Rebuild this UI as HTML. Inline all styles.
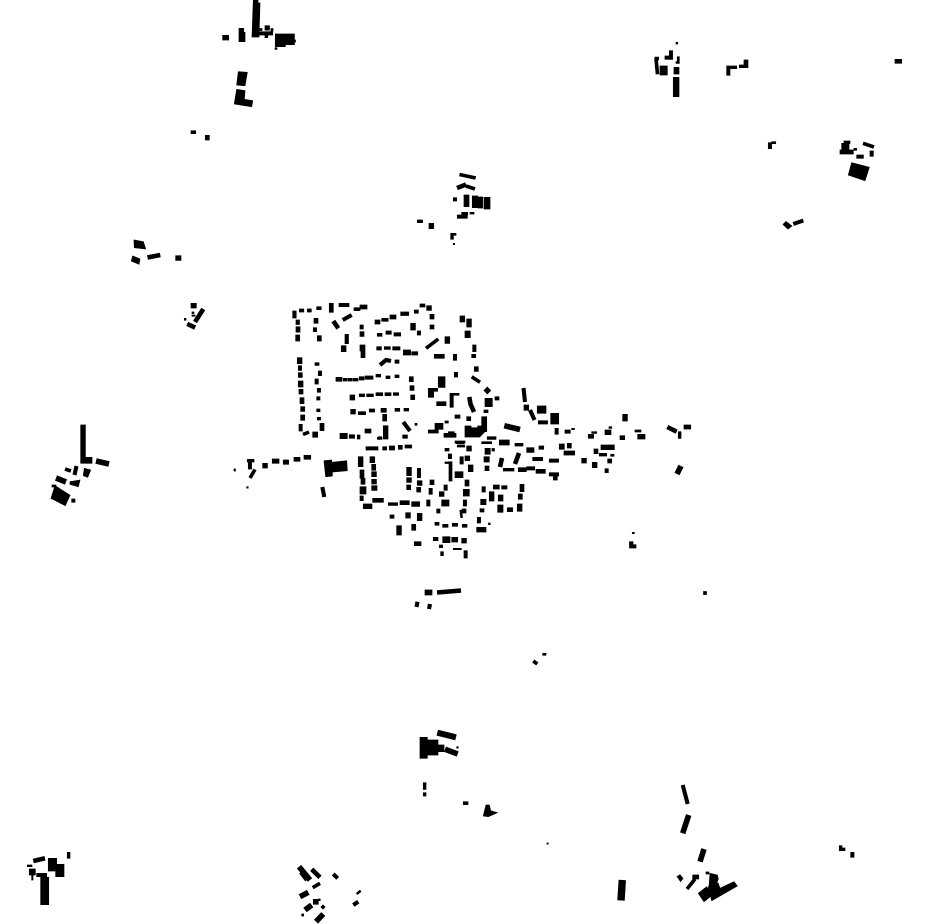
<!DOCTYPE html>
<html>
<head>
<meta charset="utf-8">
<style>html,body{margin:0;padding:0;background:#fff}svg{display:block}</style>
</head>
<body>
<svg xmlns="http://www.w3.org/2000/svg" width="930" height="924" viewBox="0 0 930 924">
<rect width="930" height="924" fill="#fff"/>
<!-- axis-aligned buildings -->
<path fill="#000" stroke="#000" stroke-width=".7" d="
M292.7 311h3.5v7h-3.5z M299.3 309h4.5v3h-4.5z M307.3 309h4v3h-4z M316.7 306.7h4.5v3h-4.5z M329.3 303.3h4v9h-4z M339 303.3h10v3.3h-10z M354 307.7h6v3h-6z M360 305h7v4h-7z
M296 320h3.5v4.5h-3.5z M296 326.7h4v5.5h-4z M295.7 335h4v6h-4z M314 318.3h4v5h-4z M313.3 327.7h3.3v4h-3.3z M317.3 335.7h4v5.3h-4z M360 325h3.3v4h-3.3z M360 331.7h4v4.7h-4z M345 334.3h3.5v9.3h-3.5z M341.3 345.7h4.7v6h-4.7z M360 345h5v6h-5z M361 351.7h4v6h-4z
M375 320h5v4h-5z M381.7 318.3h6.5v3h-6.5z M390 315h6v4h-6z M400.7 312h8v3.5h-8z M414.3 310h4v3.3h-4z M420 304h5v3h-5z M426.7 305.7h4.7v4.7h-4.7z M430 314.3h4v4.7h-4z M430 325h4v4h-4z M410.7 323.3h4.7v6.7h-4.7z M417.3 331h3.3v4h-3.3z
M377.3 333.3h4.7v3h-4.7z M386 331h5.3v3.3h-5.3z M394 332.7h6.7v3.3h-6.7z M376.7 346.7h4.7v3.3h-4.7z M384.3 346.7h6v2.7h-6z M392.7 346.7h7.3v3.3h-7.3z M403.3 350h7.3v5h-7.3z M411.7 351.7h6v3.3h-6z M395 360h4v3.3h-4z
M445 336.7h4.7v6.7h-4.7z M434.3 354.3h10v4h-10z M453.3 354.3h3.3v6h-3.3z M460 316h4.7v6h-4.7z M466.7 319h4.7v8h-4.7z M465 331h5.3v6.7h-5.3z M472.7 345h3.3v6.7h-3.3z M471.7 354.3h4v3.3h-4z M474.3 366.7h4v4.7h-4z M454.3 372.3h3.3v4.7h-3.3z M438.3 376.7h6.7v10.7h-6.7z
M428.3 388.3h9.3v3h-4v6h-5.3z M450 393.3h9v2h-5.7v12h-3.3z M436.7 401.7h9.3v4h-9.3z M495 396.7h4v3.3h-4z M485 398.3h7.3v8.3h-7.3z M484 410h4v2.7h-4z M455 415h5v3.3h-5z M466.7 416.7h4v4h-4z
M481.7 416.7h5v15h-2l-5 5.3h-14.7v-11h6v1.7h6.7v-1.7h4z
M297.3 357.7h4.7v6h-4.7z M298.3 365.7h3.3v4.7h-3.3z M298.3 372.7h4v4.7h-4z M298.3 381h4.7v6h-4.7z M299 389.3h4v4.7h-4z M300 397.7h4v6h-4z M300.7 406.7h4v4.7h-4z M300.7 415h4v5.3h-4z M299 424.3h3.3v6.7h-3.3z M312.7 432h5v5.3h-5z M320 423.3h4v7.3h-4z
M315 362.7h4v2.7h-4z M318.3 371h3.3v4.7h-3.3z M315 379h3.3v5h-3.3z M317.3 388.3h3.3v4h-3.3z M316.7 396.7h3.3v3.3h-3.3z M316.7 409h3.3v2.7h-3.3z M317.3 417.3h3.3v2.7h-3.3z
M336 377.3h6v4h-6z M343.3 378.3h4v2.7h-4z M348.3 378.3h4v2.7h-4z M353.3 378.3h4.7v2.7h-4.7z M359.3 376.7h4.7v3.3h-4.7z M365 376h8v3.3h-8z M376 374.3h4.7v2.7h-4.7z M386 376h4v2.7h-4z M395 375h4v2.7h-4z M409.3 376.7h4v5h-4z M410 385.7h4v4.7h-4z M410.7 395h4v4.7h-4z
M350 395h4.7v5h-4.7z M359.3 394h5.3v2.7h-5.3z M366.7 394h6.7v2.7h-6.7z M376 392.7h6.7v3h-6.7z M385 392.7h6v3h-6z M393.3 392.7h5.3v2.7h-5.3z
M350.7 409.3h4.7v4.7h-4.7z M358.3 411.7h7.3v3h-7.3z M369.3 409h5.3v3h-5.3z M381 408.3h5.3v4h-5.3z M395 408.3h4.7v3h-4.7z M404 408.3h4.7v2.7h-4.7z M382.7 414.3h4v6.7h-4z M383.3 425.7h4.7v13.3h-4.7z M378.3 436.7h3.3v2.7h-3.3z M365 429h6v4h-6z M340 433.3h6.7v3.3h-6.7z M349.3 435h5.3v3.3h-5.3z M357.3 435h2.7v4h-2.7z M403.3 435h4v3.3h-4z M415 423.3h2v2h-2z
M428.3 430h10v3h-10z M435 423.3h8v6h-8z M445 421h3.3v2h-3.3z M448.3 431.7h6v5.3h-6z M444 433.3h12v4h-12z M455 441h10v2h-10z
M234 469h1.5v2h-1.5z M246.7 486.7h1.5v1.5h-1.5z M247.3 459.3h6.7v2.7h-6.7z M248.3 461.7h3.3v7.3h-3.3z M262.7 463.3h4.7v4.7h-4.7z M272.3 459h6.7v4.3h-6.7z M283.3 460h5.3v4.3h-5.3z M294 457.3h6v4h-6z M304 455.3h6.7v4h-6.7z
M358.3 456.7h4.7v10h-4.7z M360 470h4v8.3h-4z M361 478.3h4v6h-4z M360 486.7h6v7.3h-6z M360 496h3.3v4.7h-3.3z M370 456.7h4.7v6h-4.7z M371.7 464.3h4v6h-4z M371.7 471.7h4.7v5h-4.7z M371.7 479.3h4.7v4.7h-4.7z M371.7 485.7h5.3v4.7h-5.3z M372.7 498.3h10.7v4h-10.7z M363.3 504h8.7v4.7h-8.7z
M366 446.7h12v3.3h-12z M382.7 446.7h4v3.3h-4z M389.3 446h5.3v4h-5.3z M398.3 445.3h4v4h-4z M405 445h6.7v3h-6.7z
M406.7 467.3h4.7v8.3h-4.7z M406.7 477.7h4.7v4.7h-4.7z M406.7 485h4v4.7h-4z M417.3 468.3h3.3v9.3h-3.3z M417.3 480.7h4.7v4.7h-4.7z M416.7 487.3h4v4.7h-4z
M388.3 502.7h9.3v2.7h-9.3z M400 500.7h9.3v4h-9.3z M411.7 501.7h8v4.7h-8z M426.7 500h3.3v6h-3.3z M430 480h4v4.7h-4z M429 488.3h3.3v6h-3.3z M439.3 491.7h4.7v4.7h-4.7z M444 485h3.3v5.3h-3.3z M465 480h4v6h-4z M463.3 489.3h6v6.7h-6z M463.3 500h3.3v6h-3.3z M441.7 500h7.3v6h-7.3z M436.7 509h3.3v4h-3.3z M462 509h4v4h-4z
M390 515h4v3.3h-4z M405.7 512.7h4.7v5.3h-4.7z M417.3 513.3h4.7v7.3h-4.7z M396.7 525.7h4.7v9.3h-4.7z M411.7 524.3h4v6h-4z M414.3 541.7h6.7v4h-6.7z
M435 522.3h4v3h-4z M442.7 524.3h5.3v3h-5.3z M452.3 523.3h5.3v3h-5.3z M462.3 524.3h4.7v3h-4.7z M477.3 518.3h3v4.7h-3z M477.3 527.7h3v3.3h-3z M433.3 537.3h4.7v3.3h-4.7z M442.7 536.7h7.3v6h-7.3z M451.7 537.3h6v4.7h-6z M461.7 538.3h4.7v4.7h-4.7z M439.3 545h3.3v2.7h-3.3z M440.7 551.7h2.7v4h-2.7z M453.3 548.3h8v1.3h-8z M464 550.7h3.3v7.3h-3.3z
M449 461.7h3v19.3h-3z M445 462h7v1.5h-7z M460 456.7h3.3v7.3h-3.3z M465 456h4.7v4.7h-4.7z M468.3 465h4.7v6.7h-4.7z M455 471.7h8v6h-8z M448.3 454h3.3v4.7h-3.3z M445 448.3h4v2.7h-4z M456 441.7h8v2h-8z M457.3 445h7.3v2h-7.3z M466.7 446h4.7v5h-4.7z
M465 431.7h5.3v4h-5.3z M474 432h5v5h-5z M429.3 430h7.3v2.7h-7.3z M402.7 435h4.7v3.3h-4.7z M384 430h2.7v8.7h-2.7z M377.3 437.3h4.7v2h-4.7z M366 430h4.7v2.7h-4.7z M340 433.3h7.3v5.3h-7.3z M349.3 434.7h4.7v3.3h-4.7z
M425 590h7v5h-7z M524 405h4.7v5.3h-4.7z M537.3 406h8.7v7.3h-8.7z M550.7 413.3h8v10.7h-8z M538.3 420.7h9.3v3.3h-9.3z M555 428.3h3.3v6h-3.3z M565 430h5.3v3.3h-5.3z M571.7 428.3h2.7v1.3h-2.7z
M588.3 434.3h5.3v4h-5.3z M591.7 431.7h5v1.7h-5z M605 430h6v4.7h-6z M609 426.7h2.7v1.7h-2.7z M622.7 414.3h4.7v6.7h-4.7z M620 435.7h4.7v4h-4.7z M635 430h6v2h-6z M637.7 434.3h7.3v4.7h-7.3z M678.3 431.7h2.7v6.7h-2.7z M684 425h6.7v4h-6.7z
M601 445h13.3v4.7h-13.3z M594 449h4v4.7h-4z M599.3 453.3h7.3v2.7h-7.3z M610.7 454.3h3.3v2h-3.3z M607.7 459h4v4h-4z M581.7 458.3h4.7v4.7h-4.7z M592.3 462.3h4.7v5.3h-4.7z M605 468.7h3.3v4h-3.3z
M559.3 444h5v5.3h-5z M567.3 443.3h4v4.7h-4z M564 451h10.7v4h-10.7z M539 446h4.7v3.3h-4.7z M526.7 447.7h7.3v4.7h-7.3z M515 443.3h8v2.7h-8z M499.3 440h10v5h-10z M487.3 436.7h8.7v2.7h-8.7z M481.7 441.7h10v2h-10z M485 448.3h5.3v6h-5.3z M492 448.5h2.5v2.5h-2.5z M484 456.7h5.3v5.3h-5.3z M485 466h4v4.7h-4z
M532.7 457.3h10v3.3h-10z M549.3 459h9.3v3.3h-9.3z M503.3 468.3h10.7v2.7h-10.7z M518.3 467.7h8v4h-8z M526.7 466.7h8v3.3h-8z M536 469.3h9.3v4h-9.3z M549.3 472.7h9.3v3.3h-9.3z M553.3 475h4v5h-4z
M493.3 485h6v4h-6z M501.7 485.7h5.3v3.3h-5.3z M520 484.3h4v7.3h-4z M518.3 494h4v5.3h-4z M517.3 504h4.7v7.3h-4.7z M507.3 507.7h5.3v4h-5.3z M497.7 505h5.3v7.3h-5.3z M498.3 495h4.7v6h-4.7z M489.3 491.7h4.7v9.3h-4.7z M482 486.7h3.3v5.3h-3.3z M480.7 499.3h5.3v5.3h-5.3z M480 508.7h4v3.3h-4z M477.3 517.3h3.3v5.3h-3.3z M476.7 527.3h9.3v4.7h-9.3z M488.5 523h1.7v1.7h-1.7z
M629.5 541.7h3.5v3h3v3.3h-6.5z M632.3 532.3h2v1.3h-2z M703.5 591.5h3v3h-3z
M222.7 35.3h6v4.7h-6z M239 28.3h4.7v4h1.3v9.3h-6z M253.3 0h4.7v3h2l-1 34h-7z M259.3 31.7h13.3v3.3h-13.3z M265 25.7h4.5v4.5h-4.5z M265 31.7h2.7v6h-2.7z M260 28.5h2v2h-2z M271 28.5h2v2.5h-2z M275.3 34h10v12.7h-10z M285.7 34h8.7v10.7h-8.7z M275 47.7h2v1.7h-2z M294 40h1.5v2h-1.5z
M191 130.7h4.7v3h-4.7z M205.3 135.3h4v4.7h-4z
M676 42.3h1.7v1.7h-1.7z M660 66h3.2v9h-3.2z M663.8 66h3.5v9h-3.5z M665 56h6.6v3.3h-6.6z M669.3 50.7h3.3v8.7h-3.3z M676 61.7h3.3v1.7h-3.3z M677.3 56.7h2v5h-2z M674 67.3h5v6.7h-5z M673.3 77.3h5.7v19.3h-5.7z
M726.7 66h10v2.7h-6.7v6.6h-3.3z M739.3 65h4.7v-5h4v7.7h-8.7z M895 59.3h6.7v4h-6.7z M768.3 142.7h3.3v6h-3.3z M771.7 141.7h4v2h-4z
M844 141h6v2.7h-6z M841.7 143.3h7.3v7.3h-7.3z M840 150h13.3v4h-13.3z M854 148.3h2.7v2h-2.7z M856.7 155h6.7v3.3h-6.7z M870 151h3.3v5.3h-3.3z
M453.3 197.7h3.3v3.3h-3.3z M464 195h5v11.7h-5z M472.3 196h5.3v11.7h-5.3z M478.3 197h4.3v11h-4.3z M484 197.3h6v11.7h-6z M457.3 215h10v3.3h-10z M461.7 212.3h6v2.7h-6z M470 212.3h4v1.7h-4z M417.3 220h5.3v2.7h-5.3z M429 223.3h4.7v5.3h-4.7z M450.7 233.3h5.3v2h-2.6v4h-2.7z M453.3 243.3h1.3v1.3h-1.3z
M175.7 255.7h5.3v4.7h-5.3z M191 303.3h5.3v4.7h-5.3z M192 312h2v1.5h-2z M192 315h3v1.3h-3z M184.3 318.3h1.7v2h-1.7z
M80.7 425h4.7v33.3h-4.7z M80.7 457.3h11.3v6h-11.3z M52 485h4v2h-4z M71.7 499h3.3v3.3h-3.3z
M420 737.3h7.3v21h-7.3z M427.3 740h10.7v15h-10.7z M436.7 745h7.3v6.7h-7.3z M456.7 746.7h1.5v1.5h-1.5z M423.3 782.7h2.7v6.7h-2.7z M423.3 792.7h2.7v3.3h-2.7z M463.3 801.7h4.7v3h-4.7z
M692.7 875h6v4h-6z M706 872h3v2h-3z M839.3 845.7h2.7v2.3h3v2.7h-5.7z M850.7 852.3h3.3v5h-3.3z
M547 843h1.2v1.2h-1.2z
M27.3 865h4.7v1.7h-4.7z M48.3 858.3h8.3v12.7h-8.3z M56 864.3h8v5h-8z M55.7 870h8.3v6.7h-8.3z M67.3 852.3h2.7v6h-2.7z M29.3 869h6v6h-6z M31.7 875h1.3v5h-1.3z M36.7 873.3h10v3.3h-10z M40.7 877.3h8v27.3h-8z
M313.3 899.3h5v5h-5z M318.5 899h1.7v1.7h-1.7z M301.7 914h2v2h-2z M542.7 653.3h3.3v2h-3.3z
"/>
<!-- polygons -->
<g fill="#000" stroke="#000" stroke-width=".7">
<polygon points="324,460.7 331.7,460 331.7,462.3 346.7,460.7 347.3,470.7 332.3,472 332.3,476 325.7,476.7"/>
<polygon points="238.3,71.7 247.3,72.3 245,85.7 236.7,85"/>
<polygon points="236.7,89.3 245,90.7 244.3,99.3 252.7,100.7 251.7,106.7 234.3,104"/>
<polygon points="851.7,162.7 869.3,167.3 865,180.7 848.3,175"/>
<polygon points="786,221.5 792,226 788,229 783,224.5"/>
<polygon points="134,240 143.3,241.7 145.7,249 134.3,247.7"/>
<polygon points="132.7,256 140,259 139,264.3 131.3,261"/>
<polygon points="188.3,322.3 195.7,325.7 194,329.3 186.7,325.7"/>
<polygon points="84.3,468.3 90.7,470 87.7,477.3 83.3,475.7"/>
<polygon points="70,481.7 80,480 78.3,486.7 70,484.3"/>
<polygon points="55,485.7 70,495.3 65.3,505.7 51,498.3"/>
<polygon points="486,805 489.3,805 490.7,810.7 497.3,812.7 488.3,816.7 483.3,816"/>
<polygon points="698.3,893.3 706.7,886.7 712.3,895 704,901.7"/>
<polygon points="708.3,886.7 718,883 720,888.3 734,881.7 737.3,886 711.7,900.7"/>
<polygon points="710,873.3 717.3,875 718.3,879 716,885 709,887"/>
<polygon points="677,876.5 680,874.7 683,878.5 680.5,881.5"/>
<polygon points="484,390.5 487.3,387 490.7,390.5 487.3,394"/>
</g>
<!-- oblique slim buildings -->
<g fill="none" stroke="#000" stroke-linejoin="miter">
<path stroke-width="2.5" d="M460.7 510L461.7 518M356.7 894L360.7 890.7"/>
<path stroke-width="3.6" d="M426 348.3L438.3 339M303 434.5L309 432M471.7 376.7L480 382.3M250 478L255 469.5M65 469L71 471M459.5 174.5L475.7 178M466 186L475 189M863 143.3L874 147M687 889L695 879M312.7 887.7L320 883.3M321.7 905.7L324.3 908.3M533.3 661L537.3 664M656 58.3L657.5 74.3M654.5 58.5L659 58.5"/>
<path stroke-width="4.1" d="M342.7 320L351.7 315M380 365L386 360L391 361M322.3 487L324.3 497M417.5 601.7L416.5 607M430 604L429 609M523.5 388L525 402M530 410L534.5 420M793.3 224L803.3 220.5M76.5 466L74.5 475M682.7 785L687.7 804M333.3 874L337.7 878.3M353.3 905L358.3 901.7M403.3 422L410 431"/>
<path stroke-width="4.6" d="M333.3 321L338.3 328.3M469.3 397L470.5 404L474 412M437 592.5L461 590.5M667.3 427L676.7 431.7M519 453L515 464M502 458L500 467M457 188L466 184.5M147.5 257.5L160.3 255M203.3 309L195 322M33.3 861L45 858.3M311.7 869.3L320 877.3M301 872L307 880"/>
<path stroke-width="5.6" d="M681 466L677 474M504.3 425.7L520 429.5M96 461L109 464M56 478L66 482M445 749.3L457.7 754M688.7 815L682.7 833.3M704 849L700 861.7M299 866.7L310 880M300 896.7L308.3 892.3M305 910L311.7 905M316 921.7L323.3 914"/>
<path stroke-width="6" d="M437.3 732.7L456 737.3"/>
<path stroke-width="7.4" d="M622.3 880L621 900.5"/>
</g>
</svg>
</body>
</html>
